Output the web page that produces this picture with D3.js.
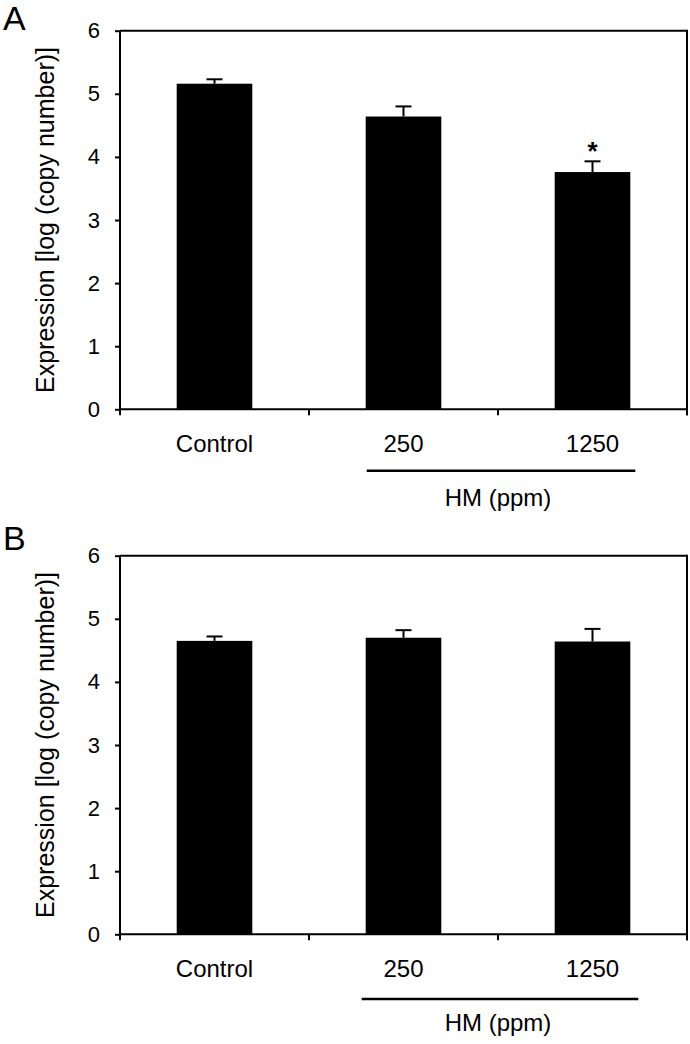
<!DOCTYPE html>
<html>
<head>
<meta charset="utf-8">
<script src="https://cdn.jsdelivr.net/npm/d3@7"></script>
<style>
  body { margin: 0; background: #fff; }
  svg text { font-family: "Liberation Sans", Arial, sans-serif; fill: #000; }
</style>
</head>
<body>
<script>
// data
const groups = ['Control', '250', '1250']
const meansA = [5.16, 4.64, 3.76]
const errA = [0.07, 0.16, 0.17]
const starsA = ['', '', '*']
const meansB = [4.65, 4.70, 4.64]
const errB = [0.07, 0.12, 0.20]
const starsB = ['', '', '']
const yTicks = [0, 1, 2, 3, 4, 5, 6]
const groupLabel = 'HM (ppm)'
const yLabel = 'Expression [log (copy number)]'

const svg = d3.select('body').append('svg').attr('width', 690).attr('height', 1044)

// panel geometry
const panels = [
  {letter: 'A', means: meansA, err: errA, stars: starsA, top: 30.7, bottom: 409.3,
   letterY: 29.5, lineDy: 61.5, lineX: [1, 5]},
  {letter: 'B', means: meansB, err: errB, stars: starsB, top: 555.7, bottom: 934.3,
   letterY: 550, lineDy: 64.7, lineX: [-4, 8]}
]
const left = 120, right = 687

panels.forEach(p => {
  const g = svg.append('g')

  const x = d3.scaleBand().domain(groups).range([left, right]).paddingInner(0.6).paddingOuter(0.3)
  const xb = d3.scaleLinear().domain([0, groups.length]).range([left, right])
  const y = d3.scaleLinear().domain([0, 6]).range([p.bottom, p.top])
  const cx = d => x(d) + x.bandwidth() / 2

  // bars
  g.selectAll('rect.bar').data(groups).enter().append('rect')
      .attr('class', 'bar')
      .attr('x', d => x(d))
      .attr('width', x.bandwidth())
      .attr('y', (d, i) => y(p.means[i]))
      .attr('height', (d, i) => y(0) - y(p.means[i]))
      .attr('fill', '#000')

  // error bars (upper only)
  const eb = g.selectAll('g.err').data(groups).enter().append('g')
  eb.append('line')
      .attr('x1', cx).attr('x2', cx)
      .attr('y1', (d, i) => y(p.means[i]))
      .attr('y2', (d, i) => y(p.means[i] + p.err[i]))
      .attr('stroke', '#000').attr('stroke-width', 2)
  eb.append('line')
      .attr('x1', d => cx(d) - 8)
      .attr('x2', d => cx(d) + 8)
      .attr('y1', (d, i) => y(p.means[i] + p.err[i]))
      .attr('y2', (d, i) => y(p.means[i] + p.err[i]))
      .attr('stroke', '#000').attr('stroke-width', 2)

  // significance stars
  g.selectAll('text.star').data(groups).enter().append('text')
      .attr('x', cx)
      .attr('y', (d, i) => y(p.means[i] + p.err[i]) - 1)
      .attr('text-anchor', 'middle')
      .attr('font-size', 26)
      .attr('font-weight', 'bold')
      .text((d, i) => p.stars[i])

  // frame (top and right)
  g.append('line').attr('x1', left).attr('x2', right).attr('y1', p.top).attr('y2', p.top)
      .attr('stroke', '#000').attr('stroke-width', 2)
  g.append('line').attr('x1', right).attr('x2', right).attr('y1', p.top - 1).attr('y2', p.bottom + 6)
      .attr('stroke', '#000').attr('stroke-width', 2)

  // y axis
  const ya = g.append('g').attr('transform', `translate(${left},0)`)
      .call(d3.axisLeft(y).tickValues(yTicks).tickSize(5).tickPadding(15).tickFormat(d3.format('d')))
  ya.select('.domain').attr('stroke-width', 2).attr('d', `M0,${p.top}V${p.bottom}`)
  ya.selectAll('.tick line').attr('stroke-width', 2)
  ya.selectAll('.tick text').attr('font-size', 22).attr('font-family', '"Liberation Sans", Arial, sans-serif')

  // x axis: ticks at band boundaries
  const xa = g.append('g').attr('transform', `translate(0,${p.bottom})`)
  xa.append('line').attr('x1', left).attr('x2', right).attr('stroke', '#000').attr('stroke-width', 2)
  xa.selectAll('line.tk').data(d3.range(groups.length + 1)).enter().append('line')
      .attr('class', 'tk')
      .attr('x1', d => xb(d)).attr('x2', d => xb(d))
      .attr('y1', 0).attr('y2', 6)
      .attr('stroke', '#000').attr('stroke-width', 2)
  xa.selectAll('text').data(groups).enter().append('text')
      .attr('x', cx)
      .attr('y', 34)
      .attr('dy', '0.35em')
      .attr('text-anchor', 'middle')
      .attr('font-size', 24)
      .text(d => d)

  // HM group bar and label
  g.append('line')
      .attr('x1', x('250') + p.lineX[0])
      .attr('x2', x('1250') + x.bandwidth() + p.lineX[1])
      .attr('y1', p.bottom + p.lineDy).attr('y2', p.bottom + p.lineDy)
      .attr('stroke', '#000').attr('stroke-width', 2.5)
  g.append('text')
      .attr('x', xb(2))
      .attr('y', p.bottom + 88.7)
      .attr('dy', '0.35em')
      .attr('text-anchor', 'middle')
      .attr('font-size', 24)
      .text(groupLabel)

  // y label
  g.append('text')
      .attr('transform', `translate(45,${(p.top + p.bottom) / 2}) rotate(-90)`)
      .attr('dy', '0.35em')
      .attr('text-anchor', 'middle')
      .attr('font-size', 25)
      .text(yLabel)

  // panel letter
  g.append('text')
      .attr('x', 3)
      .attr('y', p.letterY)
      .attr('font-size', 34)
      .text(p.letter)
})
</script>
</body>
</html>
